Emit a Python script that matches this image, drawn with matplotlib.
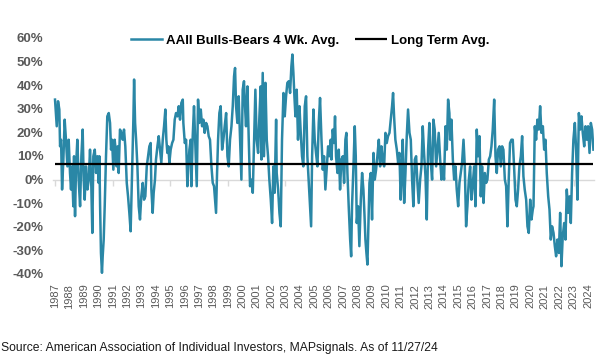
import matplotlib
matplotlib.use("Agg")
import matplotlib.pyplot as plt
from matplotlib.ticker import FuncFormatter

plt.rcParams['font.family'] = ['Liberation Sans', 'DejaVu Sans']

# ---- data (position in "survey years": 1987 = first weekly reading) ----
pos = [
    1987.00, 1987.12, 1987.21, 1987.30, 1987.35, 1987.42, 1987.49, 1987.58, 1987.67, 1987.76,
    1987.86, 1987.95, 1988.04, 1988.11, 1988.18, 1988.27, 1988.32, 1988.39, 1988.46, 1988.55,
    1988.64, 1988.74, 1988.83, 1988.92, 1988.99, 1989.06, 1989.15, 1989.25, 1989.34, 1989.43,
    1989.52, 1989.59, 1989.66, 1989.76, 1989.85, 1989.94, 1990.03, 1990.08, 1990.13, 1990.19,
    1990.26, 1990.31, 1990.38, 1990.45, 1990.54, 1990.63, 1990.73, 1990.82, 1990.89, 1990.96,
    1991.05, 1991.14, 1991.21, 1991.28, 1991.35, 1991.42, 1991.51,
    1991.61, 1991.70, 1991.79, 1991.88, 1991.98, 1992.07, 1992.16, 1992.25, 1992.35, 1992.44,
    1992.49, 1992.56, 1992.63, 1992.72, 1992.81, 1992.90, 1992.99, 1993.09, 1993.18, 1993.27,
    1993.37, 1993.46, 1993.55, 1993.64, 1993.69, 1993.78, 1993.85, 1993.94, 1994.01, 1994.11,
    1994.20, 1994.29, 1994.38, 1994.48, 1994.57, 1994.66, 1994.73, 1994.80, 1994.87, 1994.94,
    1995.03, 1995.13, 1995.22, 1995.31, 1995.40, 1995.50, 1995.59, 1995.68, 1995.77, 1995.87,
    1995.91, 1996.01, 1996.10, 1996.19, 1996.26, 1996.33, 1996.42,
    1996.47, 1996.56, 1996.65, 1996.75, 1996.84, 1996.93, 1997.02, 1997.12, 1997.21, 1997.30,
    1997.39, 1997.49, 1997.58, 1997.67, 1997.76, 1997.86, 1997.95, 1998.04, 1998.11, 1998.18,
    1998.25, 1998.32, 1998.41, 1998.50, 1998.60, 1998.69, 1998.78, 1998.88, 1998.97, 1999.06,
    1999.15, 1999.25, 1999.34, 1999.43, 1999.50, 1999.57, 1999.66, 1999.75, 1999.85, 1999.94,
    2000.03, 2000.12, 2000.19, 2000.26, 2000.36, 2000.45, 2000.54, 2000.63, 2000.73, 2000.82,
    2000.91, 2001.00, 2001.10, 2001.19, 2001.28,
    2001.33, 2001.42, 2001.51, 2001.61, 2001.70, 2001.79, 2001.88, 2001.98, 2002.07, 2002.16,
    2002.25, 2002.35, 2002.39, 2002.49, 2002.58, 2002.67, 2002.76, 2002.86, 2002.95, 2003.04,
    2003.13, 2003.23, 2003.32, 2003.41, 2003.48, 2003.55, 2003.62, 2003.69, 2003.78, 2003.87,
    2003.97, 2004.06, 2004.15, 2004.24, 2004.34, 2004.43, 2004.52, 2004.62, 2004.71, 2004.78,
    2004.85, 2004.94, 2005.03, 2005.12, 2005.22, 2005.31, 2005.40, 2005.50, 2005.59, 2005.68,
    2005.77, 2005.87, 2005.96, 2006.05, 2006.14,
    2006.19, 2006.28, 2006.37, 2006.44, 2006.51, 2006.61, 2006.70, 2006.79, 2006.88, 2006.98,
    2007.07, 2007.16, 2007.23, 2007.30, 2007.39, 2007.49, 2007.56, 2007.62, 2007.72, 2007.81,
    2007.88, 2007.95, 2008.04, 2008.13, 2008.23, 2008.32, 2008.41, 2008.48, 2008.55, 2008.62,
    2008.69, 2008.76, 2008.83, 2008.92, 2009.01, 2009.11, 2009.20, 2009.29, 2009.38, 2009.48,
    2009.57, 2009.66, 2009.75, 2009.85, 2009.94, 2010.03, 2010.12, 2010.22, 2010.31, 2010.40,
    2010.47, 2010.54, 2010.63, 2010.73, 2010.82, 2010.91, 2011.00, 2011.07,
    2011.14, 2011.24, 2011.33, 2011.42, 2011.51, 2011.61, 2011.70, 2011.79, 2011.88, 2011.98,
    2012.07, 2012.16, 2012.25, 2012.35, 2012.44, 2012.53, 2012.62, 2012.72, 2012.81, 2012.90,
    2012.99, 2013.09, 2013.18, 2013.27, 2013.36, 2013.46, 2013.55, 2013.64, 2013.74, 2013.83,
    2013.92, 2014.01, 2014.11, 2014.20, 2014.29, 2014.38, 2014.43, 2014.52, 2014.62, 2014.71,
    2014.80, 2014.89, 2014.99, 2015.08, 2015.17, 2015.26, 2015.36, 2015.45, 2015.54, 2015.63,
    2015.73, 2015.82,
    2015.91, 2016.01, 2016.10, 2016.19, 2016.28, 2016.37, 2016.47, 2016.56, 2016.65, 2016.75,
    2016.84, 2016.93, 2017.02, 2017.12, 2017.21, 2017.30, 2017.39, 2017.49, 2017.58, 2017.67,
    2017.76, 2017.86, 2017.95, 2018.04, 2018.13, 2018.23, 2018.32, 2018.41, 2018.50, 2018.59,
    2018.69, 2018.78, 2018.87, 2018.97, 2019.06, 2019.15, 2019.24, 2019.34, 2019.43, 2019.52,
    2019.61, 2019.71, 2019.80, 2019.89, 2019.99, 2020.08, 2020.17, 2020.22, 2020.31, 2020.40,
    2020.49, 2020.59, 2020.68,
    2020.77, 2020.87, 2020.96, 2021.05, 2021.14, 2021.24, 2021.33, 2021.42, 2021.51, 2021.61,
    2021.70, 2021.79, 2021.88, 2021.98, 2022.07, 2022.16, 2022.25, 2022.35, 2022.44, 2022.53,
    2022.63, 2022.72, 2022.81, 2022.90, 2022.99, 2023.09, 2023.18, 2023.27, 2023.37, 2023.46,
    2023.55, 2023.64, 2023.74, 2023.83, 2023.92, 2024.01, 2024.11, 2024.20, 2024.29, 2024.38,
]

spread = [
    33.9, 22.6, 33.2, 29.7, 14.1, 16.9, -4.2, 8.5, 25.4, 16.9,
    5.6, 16.9, 2.8, -4.2, 5.6, -11.3, 9.9, -15.5, 5.6, 16.9,
    0.0, -11.3, 9.9, 21.2, 0.0, -8.5, 5.6, -4.2, 0.0, 12.7,
    -2.8, -22.6, 9.9, 12.7, 2.8, 9.9, -1.4, 9.9, -11.3, -31.1,
    -39.5, -32.5, -25.4, -11.3, 9.9, 26.8, 28.2, 24.0, 12.7, 16.9,
    4.2, 16.9, 12.7, 5.6, 14.1, 2.8, 21.2,
    19.8, 16.9, 21.2, 14.1, -1.4, -7.1, -14.1, -21.9, 2.8, 25.4,
    42.4, 24.0, 16.9, 5.6, -11.3, -16.9, -7.1, -1.4, -8.5, -7.1,
    5.6, 9.9, 14.1, 15.5, -4.2, -14.1, -5.6, 0.0, 8.5, 14.1,
    18.4, 12.7, 7.1, 16.9, 22.6, 29.7, 16.9, 11.3, 14.1, 7.1,
    12.7, 15.5, 16.9, 25.4, 28.2, 26.8, 31.1, 25.4, 32.5, 33.9,
    24.0, 15.5, 16.9, -2.8, 5.6, 12.7, 16.9,
    -2.8, 18.4, 31.1, 12.7, -2.8, 33.9, 24.0, 29.7, 22.6, 25.4,
    19.8, 24.0, 22.6, 18.4, 16.9, 5.6, -1.4, -2.8, -8.5, -14.1,
    2.8, 16.9, 28.2, 31.1, 12.7, 16.9, 22.6, 28.2, 9.9, 5.6,
    16.9, 22.6, 31.1, 43.8, 47.3, 31.1, 24.0, 35.3, 16.9, 0.0,
    38.1, 41.7, 31.1, 22.6, 39.5, 16.9, -2.8, 0.0, -5.6, 16.9,
    38.1, 16.9, 11.3, 26.8, 39.5,
    8.5, 45.2, 9.9, 41.0, 16.9, 9.9, 0.0, -8.5, -18.4, 5.6,
    -5.6, 25.4, 2.8, -4.2, -14.1, -19.8, 16.9, 36.7, 26.8, 35.3,
    41.0, 41.7, 36.7, 48.0, 53.0, 45.2, 35.3, 26.8, 38.1, 16.9,
    31.1, 19.8, 9.9, 5.6, 31.1, 35.3, 9.9, -1.4, -11.3, -19.8,
    9.9, 29.7, 16.9, 11.3, 5.6, 24.0, 34.6, 16.9, 4.2, 9.9,
    -4.2, 5.6, 14.1, 9.9, 16.9,
    8.5, 21.2, 15.5, 26.8, 9.9, 2.8, 12.7, -4.2, 8.5, 9.9,
    -1.4, 16.9, 19.8, 2.8, -11.3, -25.4, -32.5, -11.3, 5.6, 22.6,
    9.9, -18.4, -11.3, -28.2, -8.5, 2.8, -4.2, -14.1, -25.4, -31.1,
    -36.0, -18.4, -1.4, 2.8, -16.9, 11.3, 0.0, 4.2, 9.9, 16.9,
    5.6, 14.1, 8.5, 5.6, 19.8, 15.5, 18.4, 19.8, 25.4, 31.1,
    36.7, 26.8, 16.9, 12.7, 7.1, 11.3, -8.5, 2.8,
    16.9, -9.9, 2.8, 18.4, 29.7, 19.8, 16.9, 0.0, -11.3, 8.5,
    9.9, -1.4, -9.9, 0.0, 5.6, 22.6, 11.3, 1.4, -16.9, 12.7,
    24.0, 7.1, 0.0, 25.4, 21.2, 5.6, 12.7, 19.8, 8.5, 0.0,
    5.6, 0.0, 22.6, 12.7, 33.9, 28.2, 16.9, 25.4, 8.5, 0.0,
    5.6, -4.2, -11.3, -1.4, 2.8, 7.1, 16.9, 5.6, -19.8, -11.3,
    0.0, 5.6,
    -8.5, -1.4, 5.6, -11.3, 21.2, 9.9, 18.4, -7.1, 5.6, -9.9,
    2.8, -1.4, 0.0, 8.5, 9.9, 14.1, 21.2, 33.9, 9.9, 2.8,
    12.7, 14.1, 5.6, 14.1, 12.7, 0.0, -2.8, -19.8, 0.0, 15.5,
    16.9, 16.9, 5.6, -8.5, -11.3, -4.2, 5.6, 9.9, 18.4, 1.4,
    -4.2, -8.5, -19.8, -22.6, -8.5, -16.9, -12.7, -11.3, 22.6, 16.9,
    25.4, 21.2, 31.1,
    19.8, 22.6, 12.7, 16.9, 2.8, -7.1, -12.7, -25.4, -19.8, -22.6,
    -28.2, -32.5, -25.4, -31.1, -14.1, -36.7, -24.0, -18.4, -25.4, -4.2,
    -14.1, -7.1, -18.4, 2.8, 16.9, 24.0, 12.7, -8.5, 28.2, 21.2,
    26.8, 19.8, 14.1, 22.6, 16.9, 22.6, 11.3, 24.0, 21.2, 12.7,
]

LONG_TERM_AVG = 6.8
YEARS = list(range(1987, 2025))
Y_TICKS = list(range(-40, 61, 10))
SERIES_LABEL = "AAII Bulls-Bears 4 Wk. Avg."
AVG_LABEL = "Long Term Avg."
SOURCE = "Source: American Association of Individual Investors, MAPsignals. As of 11/27/24"

TEAL = "#2A87A6"
GRAY_TXT = "#595959"
AXIS_GRAY = "#D9D9D9"

fig = plt.figure(figsize=(6.13, 3.54), dpi=100)
W, H = 613, 354
ax = fig.add_axes([53 / W, 80 / H, 541 / W, 236 / H])

series_line, = ax.plot(pos, spread, color=TEAL, lw=1.8, zorder=3,
                       solid_joinstyle="round", label=SERIES_LABEL)
avg_line = ax.hlines(LONG_TERM_AVG, pos[0], pos[-1], color="black", lw=1.6,
                     zorder=4, label=AVG_LABEL)

ax.set_xlim(YEARS[0] - 0.14, YEARS[-1] + 0.42)
ax.set_ylim(Y_TICKS[0], Y_TICKS[-1])

# zero axis line with sparse tick marks
for side in ("top", "right", "left"):
    ax.spines[side].set_visible(False)
ax.spines["bottom"].set_position(("data", 0))
ax.spines["bottom"].set_color(AXIS_GRAY)
ax.spines["bottom"].set_linewidth(1.0)
ax.spines["bottom"].set_zorder(1)
ax.set_xticks(YEARS[::4])
ax.tick_params(axis="x", length=4, width=1.0, color=AXIS_GRAY,
               labelbottom=False, direction="out")

# year labels at the bottom of the plot area
sec = ax.secondary_xaxis("bottom")
sec.spines["bottom"].set_visible(False)
sec.set_xticks(YEARS)
sec.set_xticklabels([str(y) for y in YEARS], rotation=90)
sec.tick_params(axis="x", length=0, pad=7, labelsize=8, labelcolor=GRAY_TXT)

ax.set_yticks(Y_TICKS)
ax.yaxis.set_major_formatter(FuncFormatter(lambda v, p: f"{v:.0f}%"))
ax.tick_params(axis="y", length=0, pad=7, labelsize=9.5, labelcolor=GRAY_TXT)
for lab in ax.get_yticklabels():
    lab.set_fontweight("bold")

fig.legend(handles=[series_line, avg_line], loc="center",
           bbox_to_anchor=(310 / W, 1 - 41 / H), ncol=2, frameon=False,
           prop={"weight": "bold", "size": 9.5}, handlelength=2.4,
           handletextpad=0.3, columnspacing=1.2, borderaxespad=0)

fig.text(0.002, 6 / H, SOURCE, fontsize=8.7, color="#1a1a1a", va="center", ha="left")

fig.savefig("out.png", dpi=100)
